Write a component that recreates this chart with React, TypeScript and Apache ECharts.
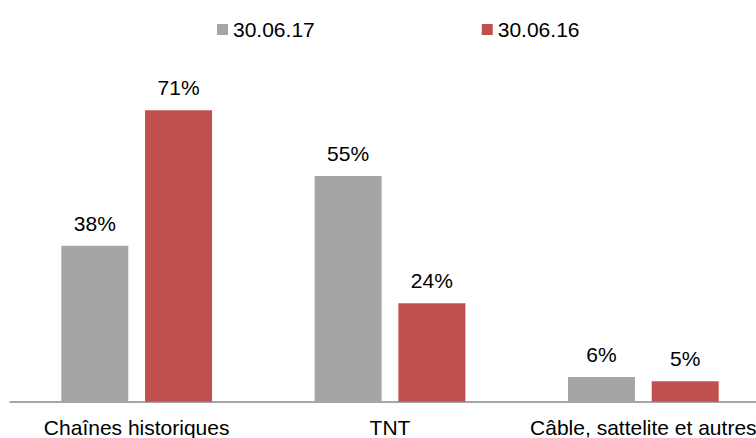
import React, { useEffect, useRef } from "react";
import * as echarts from "echarts";

const categories = ["Chaînes historiques", "TNT", "Câble, sattelite et autres"];
const seriesNames = ["30.06.17", "30.06.16"];
const values2017 = [38, 55, 6];
const values2016 = [71, 24, 5];

export default function App() {
  const ref = useRef<HTMLDivElement>(null);
  useEffect(() => {
    if (!ref.current) return;
    const chart = echarts.init(ref.current, null, { renderer: "svg" });
    const font = "'Liberation Sans', Arial, sans-serif";
    const label = {
      show: true,
      position: "top",
      distance: 12,
      formatter: "{c}%",
      color: "#000",
      fontSize: 21,
      fontFamily: font,
    };
    chart.setOption({
      animation: false,
      textStyle: { fontFamily: font },
      legend: {
        data: seriesNames,
        left: 212,
        top: 14,
        itemWidth: 11,
        itemHeight: 11,
        itemGap: 167,
        icon: "rect",
        textStyle: { fontSize: 21, color: "#000", fontFamily: font },
      },
      grid: { left: 10, width: 760, top: 73.4, bottom: 36.3, containLabel: false },
      xAxis: {
        type: "category",
        data: categories,
        axisLine: { show: true, lineStyle: { color: "#898989", width: 1.5 } },
        axisTick: { show: false },
        axisLabel: { interval: 0, fontSize: 21, color: "#000", margin: 15, fontFamily: font },
      },
      yAxis: {
        type: "value",
        min: 0,
        max: 80,
        show: false,
        splitLine: { show: false },
      },
      series: [
        {
          name: seriesNames[0],
          type: "bar",
          data: values2017,
          barWidth: 67,
          barGap: "25%",
          itemStyle: { color: "#A5A5A5" },
          label,
        },
        {
          name: seriesNames[1],
          type: "bar",
          data: values2016,
          barWidth: 67,
          barGap: "25%",
          itemStyle: { color: "#C0504D" },
          label,
        },
      ],
    });
    return () => chart.dispose();
  }, []);
  return (
    <div
      style={{ position: "fixed", left: 0, top: 0, width: 756, height: 438, overflow: "hidden", background: "#fff" }}
    >
      <div ref={ref} style={{ width: 820, height: 438 }} />
    </div>
  );
}
